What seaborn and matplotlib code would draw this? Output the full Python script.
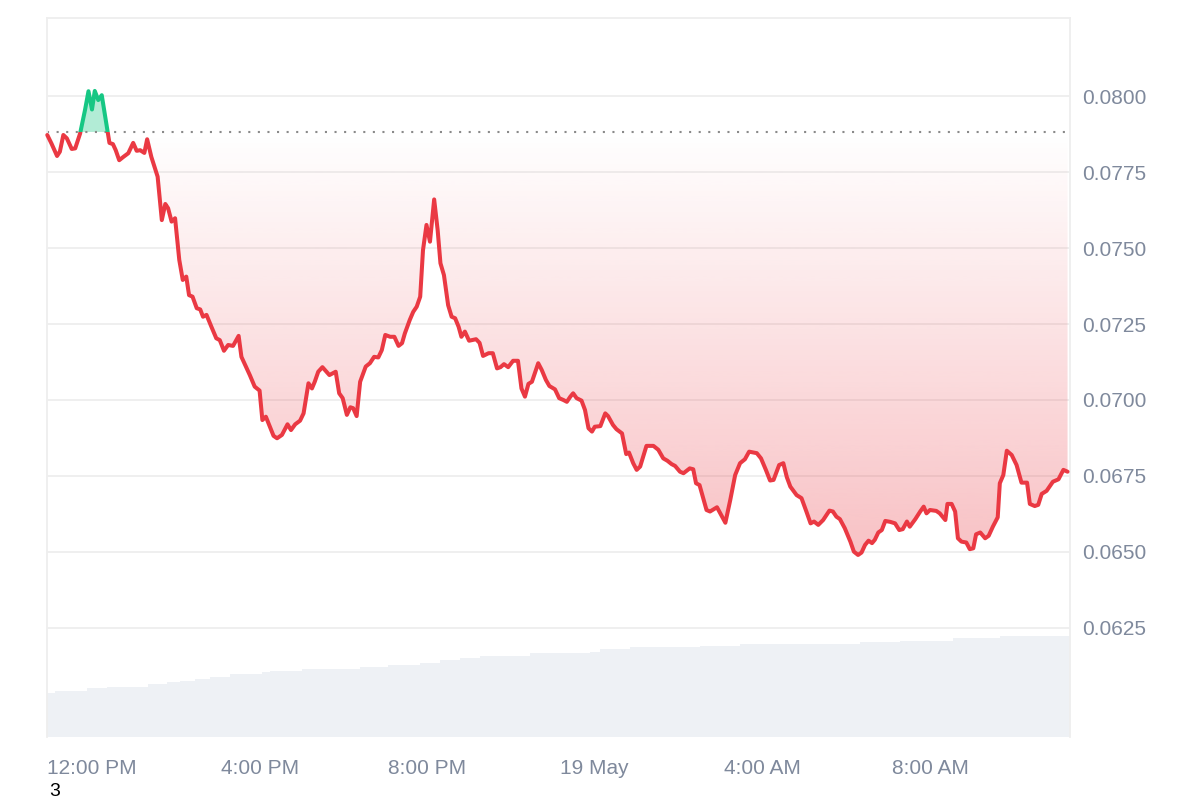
import numpy as np
import matplotlib
matplotlib.use("Agg")
import matplotlib.pyplot as plt
from matplotlib.patches import Rectangle, PathPatch
from matplotlib.path import Path
from matplotlib.colors import to_rgb
import seaborn as sns

# minutes after 12:00 PM (18 May) and price in USD
minutes = [
    -64, -58, -50, -46, -41, -36, -29, -24, -17, -10,
    -5, 0, 4, 9, 14, 19, 25, 30, 34, 39,
    45, 52, 59, 64, 69, 75, 79, 85, 94, 100,
    105, 109, 114, 119, 125, 130, 135, 139, 144, 150,
    155, 159, 164, 171, 178, 183, 189, 195, 202, 210,
    214, 226, 233, 240, 244, 249, 260, 265, 272, 280,
    285, 291, 298, 303, 310, 315, 319, 324, 330, 340,
    349, 354, 359, 365, 370, 374, 379, 384, 392, 398,
    404, 410, 415, 420, 427, 433, 439, 444, 448, 455,
    460, 465, 470, 474, 479, 484, 490, 495, 499, 504,
    510, 515, 520, 525, 529, 534, 540, 550, 555, 560,
    568, 574, 580, 585, 590, 596, 603, 610, 615, 620,
    625, 630, 639, 644, 650, 655, 663, 669, 675, 680,
    685, 689, 694, 701, 706, 711, 716, 720, 728, 735,
    739, 746, 751, 759, 765, 769, 775, 780, 785, 794,
    804, 811, 818, 824, 830, 835, 842, 847, 856, 861,
    865, 870, 880, 885, 895, 907, 914, 921, 928, 935,
    941, 952, 958, 965, 971, 976, 984, 990, 995, 1000,
    1009, 1016, 1023, 1029, 1034, 1040, 1047, 1056, 1061, 1066,
    1071, 1078, 1086, 1091, 1097, 1102, 1107, 1112, 1117, 1121,
    1126, 1131, 1136, 1143, 1150, 1156, 1161, 1167, 1171, 1179,
    1186, 1191, 1195, 1200, 1209, 1214, 1222, 1225, 1231, 1236,
    1240, 1245, 1252, 1257, 1262, 1266, 1272, 1279, 1284, 1290,
    1297, 1300, 1305, 1310, 1317, 1324, 1331, 1339, 1343, 1350,
    1355, 1360, 1367, 1376, 1384, 1391, 1397,
]
price = [
    0.07872, 0.07844, 0.07803, 0.07817, 0.07872, 0.07861, 0.07826, 0.07828, 0.07877, 0.07954,
    0.08016, 0.07956, 0.08017, 0.07987, 0.08003, 0.07932, 0.07846, 0.07842, 0.07822, 0.07789,
    0.07800, 0.07812, 0.07846, 0.07820, 0.07822, 0.07813, 0.07858, 0.07800, 0.07735, 0.07592,
    0.07645, 0.07631, 0.07587, 0.07598, 0.07461, 0.07395, 0.07406, 0.07345, 0.07340, 0.07302,
    0.07298, 0.07274, 0.07280, 0.07241, 0.07203, 0.07197, 0.07162, 0.07181, 0.07178, 0.07211,
    0.07142, 0.07082, 0.07044, 0.07031, 0.06934, 0.06945, 0.06882, 0.06874, 0.06885, 0.06920,
    0.06901, 0.06920, 0.06932, 0.06956, 0.07055, 0.07038, 0.07060, 0.07093, 0.07108, 0.07082,
    0.07093, 0.07022, 0.07006, 0.06951, 0.06976, 0.06973, 0.06947, 0.07060, 0.07110, 0.07121,
    0.07142, 0.07140, 0.07164, 0.07214, 0.07208, 0.07208, 0.07178, 0.07187, 0.07219, 0.07263,
    0.07290, 0.07307, 0.07340, 0.07493, 0.07576, 0.07521, 0.07660, 0.07559, 0.07450, 0.07411,
    0.07312, 0.07274, 0.07269, 0.07241, 0.07208, 0.07225, 0.07195, 0.07200, 0.07188, 0.07145,
    0.07154, 0.07154, 0.07104, 0.07108, 0.07118, 0.07108, 0.07129, 0.07129, 0.07038, 0.07011,
    0.07053, 0.07060, 0.07121, 0.07099, 0.07066, 0.07046, 0.07035, 0.07006, 0.07000, 0.06994,
    0.07011, 0.07022, 0.07006, 0.06998, 0.06967, 0.06907, 0.06896, 0.06912, 0.06914, 0.06956,
    0.06947, 0.06918, 0.06904, 0.06890, 0.06822, 0.06827, 0.06792, 0.06770, 0.06781, 0.06849,
    0.06849, 0.06836, 0.06808, 0.06800, 0.06789, 0.06783, 0.06764, 0.06759, 0.06775, 0.06772,
    0.06726, 0.06720, 0.06638, 0.06633, 0.06647, 0.06596, 0.06671, 0.06753, 0.06792, 0.06805,
    0.06830, 0.06825, 0.06808, 0.06770, 0.06735, 0.06737, 0.06786, 0.06792, 0.06746, 0.06715,
    0.06687, 0.06677, 0.06633, 0.06594, 0.06600, 0.06589, 0.06605, 0.06636, 0.06633, 0.06616,
    0.06608, 0.06578, 0.06534, 0.06501, 0.06490, 0.06498, 0.06523, 0.06537, 0.06529, 0.06540,
    0.06564, 0.06572, 0.06602, 0.06599, 0.06594, 0.06572, 0.06575, 0.06600, 0.06583, 0.06608,
    0.06633, 0.06649, 0.06627, 0.06638, 0.06635, 0.06627, 0.06605, 0.06658, 0.06658, 0.06633,
    0.06545, 0.06534, 0.06531, 0.06509, 0.06512, 0.06558, 0.06564, 0.06545, 0.06553, 0.06583,
    0.06614, 0.06726, 0.06753, 0.06833, 0.06819, 0.06786, 0.06728, 0.06728, 0.06658, 0.06651,
    0.06655, 0.06691, 0.06701, 0.06731, 0.06739, 0.06770, 0.06764,
]
baseline = 0.07882  # opening price (dotted line)

# volume bars (million USD), each starting at vol_start and running to the next one
vol_start = [-64.4, -53, -7.2, 21.5, 80.2, 107.4, 126, 147.5, 169, 197.6,
             243.4, 254.9, 300.7, 383.8, 423.9, 469.7, 498.3, 527, 555.6, 627.2,
             713.1, 727.5, 770.4, 870.7, 928, 1099.8, 1157, 1232.9, 1300.3]
vol_end = 1400.5
volume = [4.18, 4.37, 4.59, 4.75, 4.97, 5.16, 5.31, 5.50, 5.69, 5.92,
          6.10, 6.25, 6.44, 6.63, 6.79, 6.98, 7.26, 7.45, 7.64, 7.92,
          8.02, 8.30, 8.49, 8.58, 8.77, 8.92, 9.08, 9.31, 9.53]

tick_minutes = [0, 240, 480, 720, 960, 1200]
tick_labels = ["12:00 PM", "4:00 PM", "8:00 PM", "19 May", "4:00 AM", "8:00 AM"]
price_ticks = [0.0625, 0.0650, 0.0675, 0.0700, 0.0725, 0.0750, 0.0775, 0.0800]

x_min, x_max = -64.4, 1400.5
y_min, y_max = 0.05891, 0.08257

red = "#ea3943"
green = "#16c784"
grey_text = "#7f899c"
grid_col = "#eeeeee"

sns.set_style("white")
plt.rcParams["font.family"] = ["Liberation Sans", "DejaVu Sans"]

fig = plt.figure(figsize=(12, 8), dpi=100)
ax = fig.add_axes([0.03917, 0.07875, 0.8525, 0.89875])

# volume on a hidden twin axis behind the price
ax2 = ax.twinx()
edges = vol_start + [vol_end]
ax2.bar(vol_start, volume, width=np.diff(edges), align="edge",
        color="#eef1f5", edgecolor="none")
ax2.set_ylim(0, 67.8)
ax2.set_yticks([])
for s in ax2.spines.values():
    s.set_visible(False)
ax.set_zorder(ax2.get_zorder() + 1)
ax.patch.set_visible(False)

t = np.array(minutes, dtype=float)
p = np.array(price)

# red gradient fill below the baseline
below = ax.fill_between(t, p, baseline, where=p < baseline, interpolate=True,
                        facecolor="none", edgecolor="none")
clip = PathPatch(Path.make_compound_path(*below.get_paths()),
                 transform=ax.transData, facecolor="none", edgecolor="none")
ax.add_patch(clip)
grad = np.zeros((256, 1, 4))
grad[..., :3] = to_rgb(red)
grad[:, 0, 3] = np.linspace(22.4 * (baseline - y_min), 0, 256)
img = ax.imshow(grad, extent=[x_min, x_max, y_min, baseline], origin="lower",
                aspect="auto", zorder=1, interpolation="bicubic")
img.set_clip_path(clip)

# green fill above the baseline
ax.fill_between(t, p, baseline, where=p >= baseline, interpolate=True,
                facecolor=green, alpha=0.33, edgecolor="none", zorder=1)

ax.axhline(baseline, color="#8a8a8a", lw=1.5, ls=(0, (1, 3.6)), zorder=2)

# price line: red below the baseline, green above
sns.lineplot(x=t, y=p, ax=ax, color=red, lw=2.9, estimator=None, zorder=3)
line_red = ax.lines[-1]
sns.lineplot(x=t, y=p, ax=ax, color=green, lw=2.9, estimator=None, zorder=3)
line_green = ax.lines[-1]
line_red.set_clip_path(Rectangle((x_min - 100, y_min - 1), 3000, baseline - (y_min - 1),
                                 transform=ax.transData))
line_green.set_clip_path(Rectangle((x_min - 100, baseline), 3000, 1,
                                   transform=ax.transData))

ax.set_xlim(x_min, x_max)
ax.set_ylim(y_min, y_max)
ax2.set_xlim(x_min, x_max)

ax.yaxis.tick_right()
ax.set_yticks(price_ticks)
ax.set_yticklabels([f"{v:.4f}" for v in price_ticks])
ax.set_xticks(tick_minutes)
ax.set_xticklabels(tick_labels)
ax.tick_params(axis="y", length=0, pad=9, labelsize=15, labelcolor=grey_text)
ax.tick_params(axis="x", length=0, pad=16, labelsize=15, labelcolor=grey_text)
ax.set_xlabel("")
ax.set_ylabel("")
ax.grid(axis="y", color=grid_col, lw=1.3)
ax.grid(axis="x", visible=False)
ax.set_axisbelow(True)

for side in ["left", "right", "top"]:
    ax.spines[side].set_visible(True)
    ax.spines[side].set_color(grid_col)
    ax.spines[side].set_linewidth(1.3)
ax.spines["bottom"].set_visible(False)

fig.text(55 / 1200, 8 / 800, "3", ha="center", va="center", fontsize=14, color="black")

fig.savefig("out.png", dpi=100)
